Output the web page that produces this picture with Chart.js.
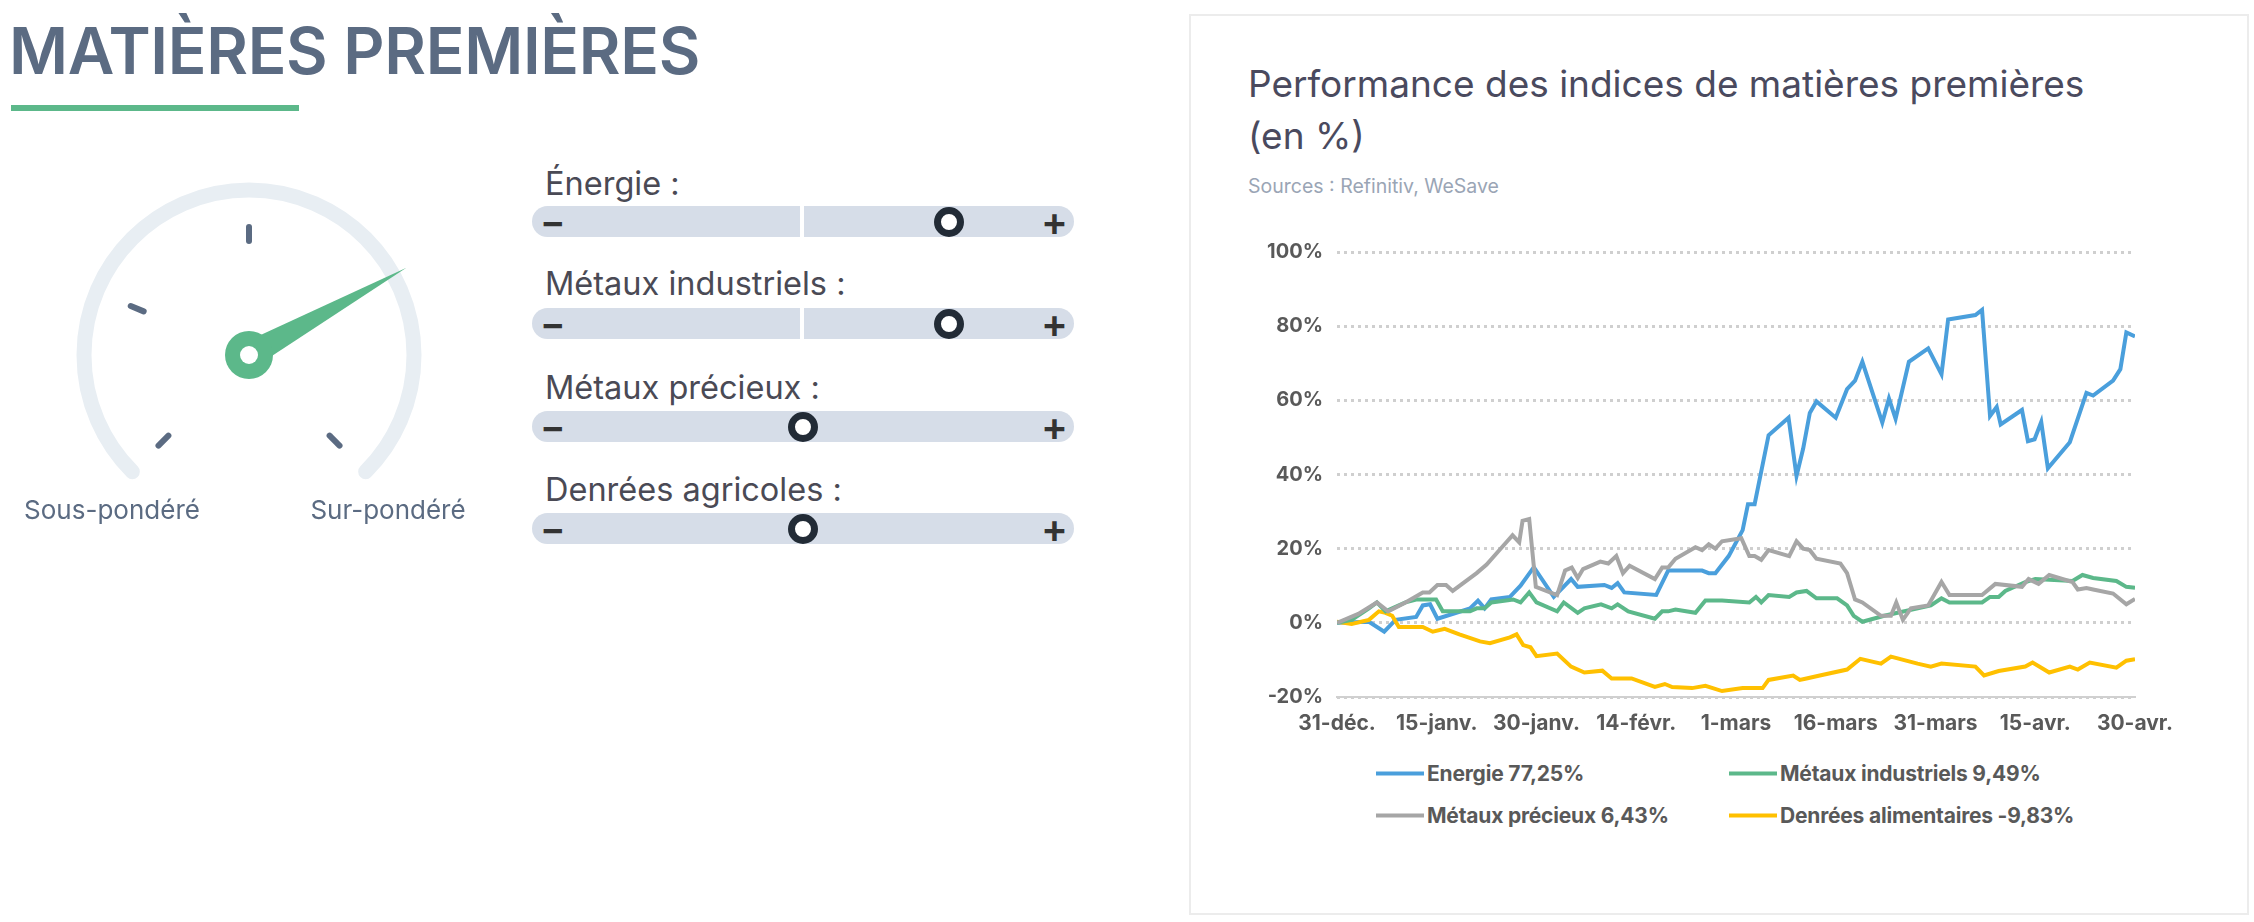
<!DOCTYPE html>
<html><head><meta charset="utf-8">
<script src="https://cdn.jsdelivr.net/npm/chart.js@4"></script>
<style>
body{margin:0;width:2254px;height:922px;background:#fff;font-family:Inter,sans-serif;position:relative;overflow:hidden}
.abs{position:absolute}
#title{left:9px;top:12px;font-size:64px;font-weight:600;color:#5b6b82;letter-spacing:-0.3px}
#uline{left:11px;top:105px;width:288px;height:6px;background:#5cb88a}
.glab{font-size:26px;color:#5b6b82;transform:translateX(-50%)}
.slab{left:545px;font-size:32.5px;color:#4a4a55;transform:translateY(-50%)}
.bar{left:532px;width:542px;height:31px;background:#d6dde8;border-radius:16px}
.bar .mid{position:absolute;left:268px;top:0;width:4px;height:31px;background:#fff}
.bar .m{position:absolute;left:8px;top:-8px;font-size:38px;color:#333;font-weight:600}
.bar .p{position:absolute;right:6px;top:-9px;font-size:40px;color:#333;font-weight:600}
.knob{position:absolute;top:1px;width:16px;height:16px;border:7px solid #222b36;border-radius:50%;background:#fff;transform:translateX(-50%)}
#panel{left:1189px;top:14px;width:1060px;height:901px;border:2px solid #ececec;box-sizing:border-box}
#ctitle{left:1248px;top:58px;font-size:37px;color:#4a4a5e;line-height:52px}
#src{left:1248px;top:174px;font-size:19.5px;color:#9aa5b5}
.leg{font-size:21px;font-weight:700;color:#595959;letter-spacing:-0.2px;transform:translateY(-50%);display:flex;align-items:center}
.leg i{display:inline-block;width:48px;height:4px;margin-right:3px}
</style></head><body>
<div id="title" class="abs">MATIÈRES PREMIÈRES</div>
<div id="uline" class="abs"></div>
<canvas id="gauge" class="abs" style="left:0;top:140px" width="500" height="360"></canvas>
<div class="abs glab" style="left:112px;top:494px">Sous-pondéré</div>
<div class="abs glab" style="left:388px;top:494px">Sur-pondéré</div>
<div id="sliders"></div>
<div id="panel" class="abs"></div>
<div id="ctitle" class="abs">Performance des indices de matières premières<br>(en %)</div>
<div id="src" class="abs">Sources : Refinitiv, WeSave</div>
<canvas id="c" class="abs" style="left:1230px;top:226px;width:955px;height:511px"></canvas>
<div id="legend"></div>
<script>
// ---- data ----
const xTickLabels=['31-déc.','15-janv.','30-janv.','14-févr.','1-mars','16-mars','31-mars','15-avr.','30-avr.'];
const seriesNames=['Energie 77,25%','Métaux industriels 9,49%','Métaux précieux 6,43%','Denrées alimentaires -9,83%'];
const energieDays=[0,4.8,7.1,8.8,11.9,12.9,14,15.1,20,21.2,22.2,23.2,26,27.6,29.6,32.6,35.2,36.2,40.2,41.3,42.2,43.2,48,49.8,54.9,55.9,56.9,58.9,61,61.8,62.8,64.9,67.9,69.1,70.1,71.1,72.1,75,76.7,77.9,79,82,83,84,86,88.9,90.9,91.9,96,97,98.2,99.2,99.8,103,103.9,104.9,105.9,106.9,110.2,112.7,113.7,116.7,117.8,118.7,120];
const energieVals=[0,0.3,-2.4,0.8,1.6,4.7,5,1.1,3.9,6,3.9,6.3,7,10,15,7,11.8,9.7,10.2,9.4,10.7,8.2,7.5,14.1,14.1,13.4,13.4,18,25,32,32,50.6,55.3,39.6,47,56.6,59.7,55.3,63,65.3,70.4,54,60.5,55,70.4,74,67,81.8,83,84.4,55.8,58.2,53.5,57.4,49,49.5,54.2,41.7,48.7,62,61.3,65.3,68.4,78.3,77.25];
const industDays=[0,2.2,4.8,6,7.3,10.3,11.9,14.9,15.9,20,21,22.2,23.2,26.5,27.6,28.9,30,33.1,34.1,36.2,37.2,39.7,41.3,42.2,43.8,47.8,48.9,49.8,50.9,53.9,55.4,57.9,62,63,63.8,64.9,68,69.1,70.6,72.1,75.2,76.7,77.7,79,82.3,84.3,89.3,90.9,92.1,97,98.2,99.5,100.5,103.5,105,110.6,112.1,113.7,117.2,118.7,120];
const industVals=[0,0.8,3.9,5.5,3.1,5.5,6.3,6.3,3.1,3.1,3.9,3.9,5.5,6.3,5.5,8.2,5.5,3.1,5.5,2.7,3.9,5,3.9,5,3.1,1.1,3.1,3.1,3.6,2.7,6,6,5.5,7,5.5,7.5,7,8.2,8.6,6.6,6.6,4.7,1.9,0.3,1.9,2.7,4.7,6.6,5.5,5.5,7,7,8.6,11,11.8,11.3,12.9,12.1,11.3,9.7,9.49];
const precDays=[0,3.2,6,7.7,10.3,12.9,13.9,15.1,16.4,17.4,21,22.5,25.6,26.4,27.4,27.9,28.9,29.9,33.1,34.3,35.3,36.2,37,39.6,40.8,42,43,44,47.8,48.9,49.8,50.9,53.9,54.9,55.9,56.9,57.9,60.8,62,62.8,63.8,64.9,68,69.1,70.1,71.1,72.1,75.7,76.7,77.9,79,81.8,83.3,84.1,85.1,86.3,88.9,90.9,92.1,97,99,103,104,105.5,107.1,110.6,111.4,112.7,113.7,116.7,118.7,120];
const precVals=[0,2.4,5.5,3.1,5.5,8.2,8.2,10.2,10.2,8.6,13.4,15.7,22,23.6,21.7,27.5,28,9.7,7.5,14.1,14.9,12.1,14.5,16.5,16,18,13.4,15.4,11.8,14.9,14.9,17.3,20.4,19.6,21.2,20,22,22.8,18,18,17,19.6,18,22,20,19.6,17.3,16,13.4,6.3,5.5,1.9,1.9,5.5,0.8,3.9,4.7,11,7.5,7.5,10.5,9.7,11.8,10.5,12.9,11,9,9.4,9,7.9,5,6.43];
const denreesDays=[0,2.2,4.8,6.3,7.3,8.3,9.3,12.9,14.4,16.2,18.4,21.5,23,26,27,28,29.1,30,33.1,35.2,37.2,39.9,41.3,44.3,47.8,49.3,50.4,53.4,55.4,57.9,61,64,64.9,68.6,69.6,70.6,72.6,76.7,78.7,81.8,83.3,87.3,89.3,90.9,96,97.3,99.5,103.5,104.6,107.1,110.2,111.4,113.2,117.2,118.7,120];
const denreesVals=[0.3,-0.3,0.8,3.1,2.7,1.9,-1.1,-1.1,-2.4,-1.6,-3.1,-5,-5.5,-3.9,-3.1,-6,-6.6,-9,-8.3,-11.8,-13.4,-12.9,-15,-15,-17.3,-16.5,-17.3,-17.6,-17,-18.4,-17.6,-17.6,-15.4,-14.2,-15.4,-15,-14.2,-12.6,-9.7,-11,-9.1,-11,-11.8,-11,-11.8,-14.2,-13,-11.8,-10.7,-13.4,-11.8,-12.6,-10.7,-12.1,-10.2,-9.83];
const colors=['#4a9fdc','#5cb88a','#a6a6a6','#ffc000'];
const sliderLabels=['Énergie :','Métaux industriels :','Métaux précieux :','Denrées agricoles :'];
const sliderPos=[0.77,0.77,0.5,0.5];

// ---- gauge ----
(function(){
 const g=document.getElementById('gauge').getContext('2d');
 const cx=249,cy=215,R=165,rad=d=>d*Math.PI/180;
 g.lineCap='round';g.strokeStyle='#e8eef3';g.lineWidth=15;
 g.beginPath();g.arc(cx,cy,R,rad(135),rad(405));g.stroke();
 g.strokeStyle='#5b6b82';g.lineWidth=6;
 [135,202.5,270,45].forEach(a=>{g.beginPath();g.moveTo(cx+114*Math.cos(rad(a)),cy+114*Math.sin(rad(a)));g.lineTo(cx+128*Math.cos(rad(a)),cy+128*Math.sin(rad(a)));g.stroke();});
 const a=rad(331),L=180,w=13;
 g.fillStyle='#5cb88a';g.beginPath();
 g.moveTo(cx+L*Math.cos(a),cy+L*Math.sin(a));
 g.lineTo(cx+w*Math.cos(a+Math.PI/2)+5*Math.cos(a),cy+w*Math.sin(a+Math.PI/2)+5*Math.sin(a));
 g.lineTo(cx+w*Math.cos(a-Math.PI/2)+5*Math.cos(a),cy+w*Math.sin(a-Math.PI/2)+5*Math.sin(a));
 g.closePath();g.fill();
 g.beginPath();g.arc(cx,cy,24,0,7);g.fill();
 g.fillStyle='#fff';g.beginPath();g.arc(cx,cy,9,0,7);g.fill();
})();

// ---- sliders ----
(function(){
 const ly=[183,283,387,489],by=[206,308,411,513];let h='';
 sliderLabels.forEach((s,i)=>{
  h+=`<div class="abs slab" style="top:${ly[i]}px">${s}</div>`;
  h+=`<div class="abs bar" style="top:${by[i]}px">${i<2?'<div class="mid"></div>':''}<span class="m">−</span><span class="p">+</span><div class="knob" style="left:${sliderPos[i]*100}%"></div></div>`;
 });
 document.getElementById('sliders').innerHTML=h;
})();

// ---- legend ----
(function(){
 const pos=[[1376,773],[1729,773],[1376,815],[1729,815]];let h='';
 seriesNames.forEach((n,i)=>{h+=`<div class="abs leg" style="left:${pos[i][0]}px;top:${pos[i][1]}px"><i style="background:${colors[i]}"></i>${n}</div>`;});
 document.getElementById('legend').innerHTML=h;
})();

// ---- chart ----
const mk=(d,v)=>d.map((x,i)=>({x,y:v[i]}));
const allData=[mk(energieDays,energieVals),mk(industDays,industVals),mk(precDays,precVals),mk(denreesDays,denreesVals)];
const order=[2,1,3,0];
new Chart(document.getElementById('c'),{
 type:'line',
 data:{datasets:order.map(i=>({label:seriesNames[i],data:allData[i],borderColor:colors[i],borderWidth:4,pointRadius:0,tension:0,fill:false}))},
 options:{responsive:false,animation:false,devicePixelRatio:1,
  layout:{padding:{top:22,right:50,left:0,bottom:0}},
  plugins:{legend:{display:false},tooltip:{enabled:false}},
  scales:{
   x:{type:'linear',min:0,max:120,
    ticks:{stepSize:15,autoSkip:false,maxRotation:0,padding:6,color:'#595959',font:{family:'Inter',size:21,weight:'bold'},callback:(v)=>xTickLabels[Math.round(v/15)]},
    grid:{display:false,drawOnChartArea:false,tickLength:8,color:'#d0d0d0'},
    border:{color:'#d0d0d0',width:2},
    afterFit:s=>{s.height=40;}},
   y:{min:-20,max:100,
    ticks:{stepSize:20,padding:14,color:'#595959',font:{family:'Inter',size:20,weight:'bold'},callback:v=>v+'%'},
    grid:{color:'#cfcfcf',lineWidth:3,tickLength:0,drawTicks:false},
    border:{display:true,width:0,color:'rgba(0,0,0,0)',dash:[3,4]},
    afterFit:s=>{s.width=107;}}
  }
 }
});
</script>
</body></html>
